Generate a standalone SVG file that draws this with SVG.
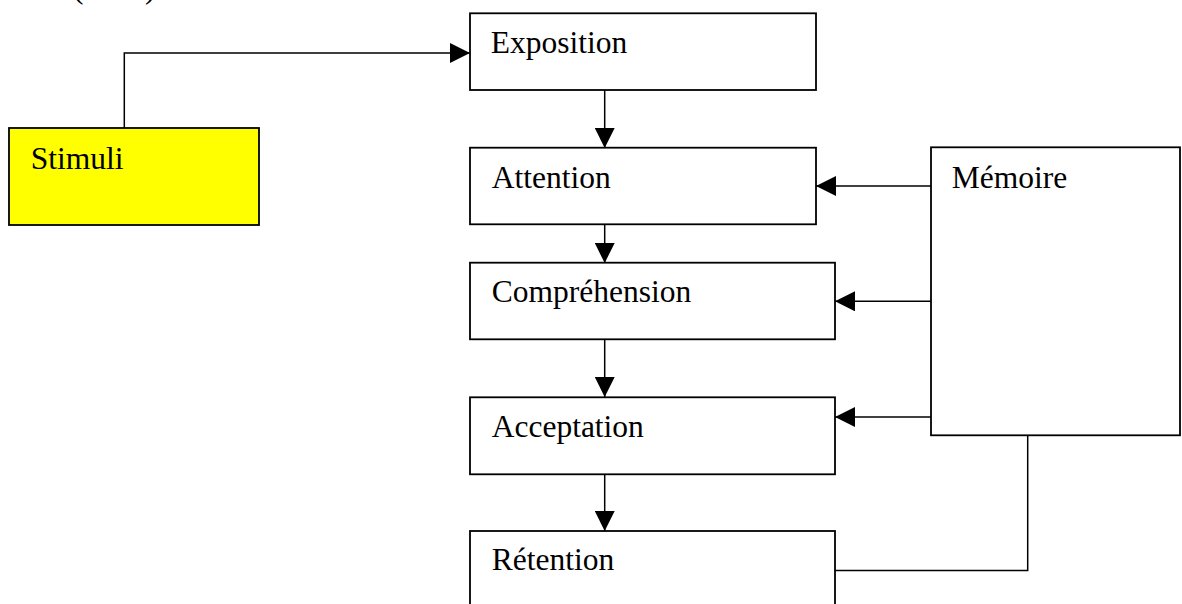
<svg xmlns="http://www.w3.org/2000/svg" width="1182" height="604" viewBox="0 0 1182 604">
<defs>
<style>
.box{fill:#ffffff;stroke:#000000;stroke-width:1.8}
.yellow{fill:#ffff00}
.lbl{font-family:"Liberation Serif","Times New Roman",serif;font-size:31.5px;fill:#000000}
.con{fill:none;stroke:#000000;stroke-width:1.5}
</style>
<marker id="arr" markerWidth="20" markerHeight="20" viewBox="0 0 20 20" refX="20" refY="10" orient="auto" markerUnits="userSpaceOnUse">
<path d="M0,0 L20,10 L0,20 Z" fill="#000000"/>
</marker>
</defs>
<rect width="1182" height="604" fill="#ffffff"/>
<g id="header">
<text class="lbl" x="73" y="-2">(</text>
<text class="lbl" x="145" y="-2">)</text>
</g>
<g id="connectors">
<path class="con" d="M124.3,128 V53 H470" marker-end="url(#arr)"/>
<path class="con" d="M604.7,90 V148" marker-end="url(#arr)"/>
<path class="con" d="M604.7,224 V263" marker-end="url(#arr)"/>
<path class="con" d="M604.7,339 V397" marker-end="url(#arr)"/>
<path class="con" d="M604.7,474 V531" marker-end="url(#arr)"/>
<path class="con" d="M931,186 H816" marker-end="url(#arr)"/>
<path class="con" d="M931,301.3 H835" marker-end="url(#arr)"/>
<path class="con" d="M931,417 H835" marker-end="url(#arr)"/>
<path class="con" d="M835,570.5 H1027.7 V435"/>
</g>
<g id="stimuli">
<rect class="box yellow" x="9" y="128" width="250" height="97"/>
<text class="lbl" x="30.7" y="169.3">Stimuli</text>
</g>
<g id="exposition">
<rect class="box" x="470" y="13.3" width="346" height="76.7"/>
<text class="lbl" x="490.7" y="53.3">Exposition</text>
</g>
<g id="attention">
<rect class="box" x="470" y="147.7" width="346" height="76.6"/>
<text class="lbl" x="491.7" y="187.7">Attention</text>
</g>
<g id="comprehension">
<rect class="box" x="470" y="262.7" width="365" height="76.6"/>
<text class="lbl" x="491.7" y="301.7">Compréhension</text>
</g>
<g id="acceptation">
<rect class="box" x="470" y="397.3" width="365" height="77"/>
<text class="lbl" x="491.7" y="436.7">Acceptation</text>
</g>
<g id="retention">
<rect class="box" x="470" y="531" width="365" height="90"/>
<text class="lbl" x="491.7" y="570">Rétention</text>
</g>
<g id="memoire">
<rect class="box" x="931" y="147.3" width="249" height="288"/>
<text class="lbl" x="951.7" y="187.7">Mémoire</text>
</g>
</svg>
